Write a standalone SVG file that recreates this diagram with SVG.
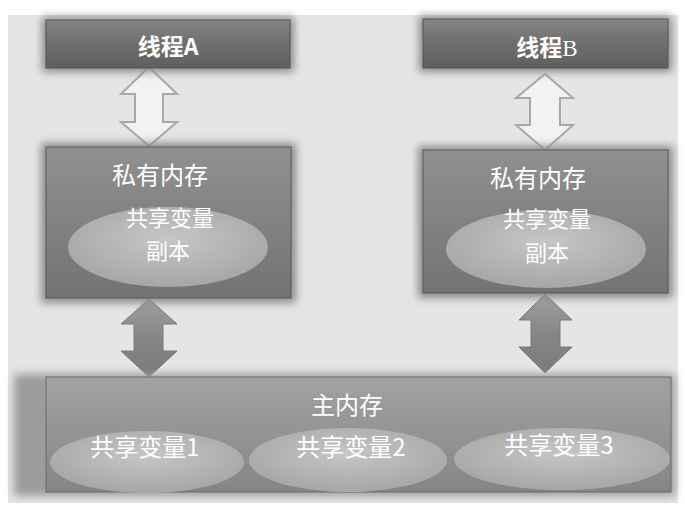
<svg xmlns="http://www.w3.org/2000/svg" width="685" height="517" viewBox="0 0 685 517">
<defs>
<linearGradient id="gThread" x1="0" y1="0" x2="0" y2="1">
<stop offset="0" stop-color="#858585"/><stop offset="0.5" stop-color="#6e6e6e"/><stop offset="1" stop-color="#5f5f5f"/>
</linearGradient>
<linearGradient id="gPriv" x1="0" y1="0" x2="0" y2="1">
<stop offset="0" stop-color="#909090"/><stop offset="1" stop-color="#737373"/>
</linearGradient>
<linearGradient id="gMain" x1="0" y1="0" x2="0" y2="1">
<stop offset="0" stop-color="#a2a2a2"/><stop offset="1" stop-color="#858585"/>
</linearGradient>
<radialGradient id="gEll" cx="0.5" cy="0.4" r="0.6">
<stop offset="0" stop-color="#c6c6c6"/><stop offset="1" stop-color="#a6a6a6"/>
</radialGradient>
<linearGradient id="gArrow" x1="0" y1="0" x2="0" y2="1">
<stop offset="0" stop-color="#a0a0a0"/><stop offset="0.5" stop-color="#868686"/><stop offset="1" stop-color="#7a7a7a"/>
</linearGradient>
<filter id="shadow" x="-10%" y="-20%" width="120%" height="140%">
<feGaussianBlur stdDeviation="4"/>
</filter>
</defs>
<style>
.bg{fill:#e5e5e5}
.thread{fill:url(#gThread);stroke:#555;stroke-width:1}
.priv{fill:url(#gPriv);stroke:#5a5a5a;stroke-width:1}
.main{fill:url(#gMain);stroke:#6a6a6a;stroke-width:1}
.ell{fill:url(#gEll)}
.shd{fill:#8a8a8a;filter:url(#shadow)}
.shdl{fill:#9c9c9c;filter:url(#shadow)}
.hollow{fill:#f2f2f2;stroke:#a8a8a8;stroke-width:2;stroke-linejoin:miter}
.solid{fill:url(#gArrow);stroke:#7a7a7a;stroke-width:1}
.t{fill:#ffffff;font-family:"Noto Sans CJK SC","Noto Sans",sans-serif;text-anchor:middle}
.tb{font-weight:bold;font-size:23px}
.tm{font-size:24px}
.ts{font-size:22px}
</style>
<rect x="0" y="0" width="685" height="517" fill="#ffffff"/>
<rect class="bg" x="8" y="15" width="670" height="488"/>

<g id="connectors">
<path class="hollow" d="M149,67 L177,94 L163,94 L163,122 L177,122 L149,146 L121,122 L135,122 L135,94 L121,94 Z"/>
<path class="hollow" d="M545,74 L573,98 L560,98 L560,125 L573,125 L545,150 L516,125 L530,125 L530,98 L516,98 Z"/>
<path class="solid" d="M149,299 L177,324 L163,324 L163,351 L177,351 L149,377 L121,351 L134,351 L134,324 L121,324 Z"/>
<path class="solid" d="M545,294 L572,320 L560,320 L560,347 L572,347 L545,373 L519,347 L531,347 L531,320 L519,320 Z"/>
</g>

<g id="threadA">
<rect class="shd" x="42" y="17" width="252" height="55"/>
<rect class="thread" x="46" y="20" width="244" height="48"/>
<text class="t tb" x="168" y="55">线程A</text>
</g>

<g id="threadB">
<rect class="shd" x="419" y="16" width="253" height="56"/>
<rect class="thread" x="423" y="19" width="245" height="49"/>
<text class="t tb" x="547" y="56">线程<tspan font-family="Liberation Serif,serif" font-weight="normal">B</tspan></text>
</g>

<g id="privA">
<rect class="shd" x="41" y="143" width="255" height="160"/>
<rect class="priv" x="46" y="147" width="245" height="151"/>
<text class="t tm" x="160" y="184">私有内存</text>
<ellipse class="ell" cx="168" cy="247" rx="100" ry="40"/>
<text class="t ts" x="170" y="226">共享变量</text>
<text class="t ts" x="168" y="259">副本</text>
</g>

<g id="privB">
<rect class="shd" x="418" y="146" width="255" height="152"/>
<rect class="priv" x="423" y="150" width="245" height="143"/>
<text class="t tm" x="538" y="187">私有内存</text>
<ellipse class="ell" cx="546" cy="249" rx="100" ry="39"/>
<text class="t ts" x="547" y="227">共享变量</text>
<text class="t ts" x="547" y="261">副本</text>
</g>

<g id="mainMem">
<rect class="shdl" x="14" y="374" width="661" height="122"/>
<rect class="main" x="46" y="377" width="625" height="115"/>
<text class="t tm" x="347" y="414">主内存</text>
<ellipse class="ell" cx="147" cy="462" rx="97" ry="31"/>
<ellipse class="ell" cx="348" cy="460" rx="99" ry="32"/>
<ellipse class="ell" cx="562" cy="459" rx="108" ry="31"/>
<text class="t tm" x="145" y="456">共享变量1</text>
<text class="t tm" x="351" y="456">共享变量2</text>
<text class="t tm" x="559" y="454">共享变量3</text>
</g>
</svg>
